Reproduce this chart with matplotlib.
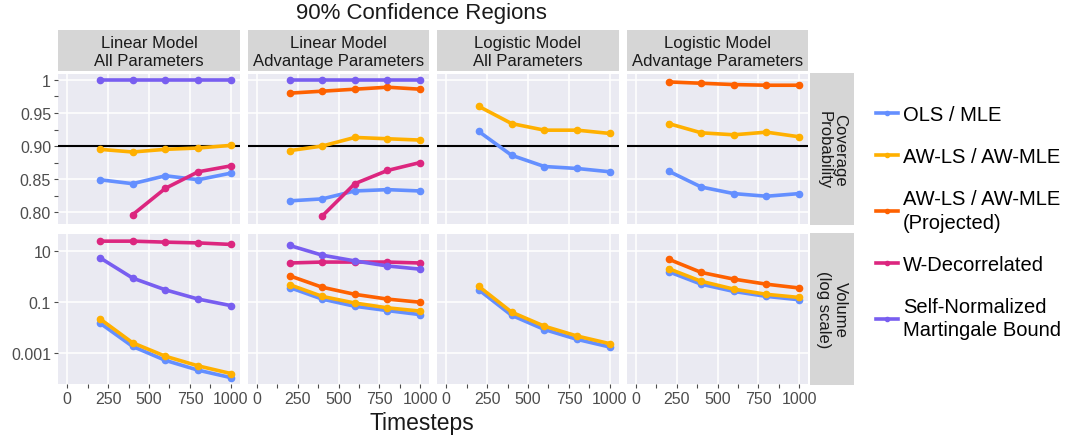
import numpy as np
import matplotlib
matplotlib.use("Agg")
import matplotlib.pyplot as plt
from matplotlib.lines import Line2D
from matplotlib.ticker import FixedLocator, LogLocator, NullFormatter

plt.rcParams['font.family'] = ['Liberation Sans', 'DejaVu Sans']

# ---- data ----
timesteps = [200, 400, 600, 800, 1000]
methods = ['OLS / MLE', 'AW-LS / AW-MLE', 'AW-LS / AW-MLE\n(Projected)',
           'W-Decorrelated', 'Self-Normalized\nMartingale Bound']
colors = ['#648FFF', '#FFB000', '#FE6100', '#DC267F', '#785EF0']
panel_titles = ['Linear Model\nAll Parameters', 'Linear Model\nAdvantage Parameters',
                'Logistic Model\nAll Parameters', 'Logistic Model\nAdvantage Parameters']
row_titles = ['Coverage\nProbability', 'Volume\n(log scale)']

nan = np.nan
# coverage probability, one list per method, per panel (nan = not shown)
cov_lin_all_ols = [0.849, 0.843, 0.855, 0.849, 0.859]
cov_lin_all_aw = [0.895, 0.891, 0.895, 0.897, 0.901]
cov_lin_all_wdec = [nan, 0.796, 0.836, 0.861, 0.870]
cov_lin_all_sn = [1.0, 1.0, 1.0, 1.0, 1.0]

cov_lin_adv_ols = [0.817, 0.820, 0.832, 0.834, 0.832]
cov_lin_adv_aw = [0.893, 0.900, 0.913, 0.911, 0.909]
cov_lin_adv_proj = [0.980, 0.983, 0.986, 0.989, 0.986]
cov_lin_adv_wdec = [nan, 0.794, 0.843, 0.863, 0.875]
cov_lin_adv_sn = [1.0, 1.0, 1.0, 1.0, 1.0]

cov_log_all_ols = [0.922, 0.886, 0.869, 0.866, 0.861]
cov_log_all_aw = [0.960, 0.934, 0.924, 0.924, 0.919]

cov_log_adv_ols = [0.862, 0.838, 0.828, 0.824, 0.828]
cov_log_adv_aw = [0.934, 0.920, 0.917, 0.921, 0.914]
cov_log_adv_proj = [0.997, 0.995, 0.993, 0.992, 0.992]

# volume
vol_lin_all_ols = [0.015, 0.0018, 0.00051, 0.00021, 0.000107]
vol_lin_all_aw = [0.022, 0.0025, 0.00074, 0.00031, 0.000155]
vol_lin_all_wdec = [24.5, 24.5, 22.4, 20.9, 18.2]
vol_lin_all_sn = [5.5, 0.87, 0.30, 0.13, 0.072]

vol_lin_adv_ols = [0.37, 0.13, 0.068, 0.046, 0.032]
vol_lin_adv_aw = [0.48, 0.166, 0.091, 0.059, 0.044]
vol_lin_adv_proj = [1.07, 0.38, 0.20, 0.13, 0.098]
vol_lin_adv_wdec = [3.4, 3.7, 3.7, 3.7, 3.4]
vol_lin_adv_sn = [16.6, 6.9, 4.1, 2.6, 1.95]

vol_log_all_ols = [0.30, 0.030, 0.0083, 0.0034, 0.0017]
vol_log_all_aw = [0.41, 0.040, 0.0112, 0.0046, 0.0023]

vol_log_adv_ols = [1.55, 0.50, 0.26, 0.166, 0.123]
vol_log_adv_aw = [2.04, 0.65, 0.32, 0.20, 0.151]
vol_log_adv_proj = [4.8, 1.45, 0.79, 0.50, 0.355]

coverage = [
    [cov_lin_all_ols, cov_lin_all_aw, None, cov_lin_all_wdec, cov_lin_all_sn],
    [cov_lin_adv_ols, cov_lin_adv_aw, cov_lin_adv_proj, cov_lin_adv_wdec, cov_lin_adv_sn],
    [cov_log_all_ols, cov_log_all_aw, None, None, None],
    [cov_log_adv_ols, cov_log_adv_aw, cov_log_adv_proj, None, None],
]
volume = [
    [vol_lin_all_ols, vol_lin_all_aw, None, vol_lin_all_wdec, vol_lin_all_sn],
    [vol_lin_adv_ols, vol_lin_adv_aw, vol_lin_adv_proj, vol_lin_adv_wdec, vol_lin_adv_sn],
    [vol_log_all_ols, vol_log_all_aw, None, None, None],
    [vol_log_adv_ols, vol_log_adv_aw, vol_log_adv_proj, None, None],
]

# ---- layout (pixel boxes) ----
W, H = 1068, 439
fig = plt.figure(figsize=(W / 100, H / 100), dpi=100)

def box(x0, y0, x1, y1):
    return [x0 / W, 1 - y1 / H, (x1 - x0) / W, (y1 - y0) / H]

col_x = [(58, 240), (248, 429), (437, 619), (627, 808)]
row_y = [(75, 225), (235, 385)]
bg = '#EAEAF2'
strip_c = '#D6D6D6'
tick_c = '#4D4D4D'

for j, (x0, x1) in enumerate(col_x):
    s = fig.add_axes(box(x0, 31, x1, 72))
    s.set_facecolor(strip_c)
    s.set_xticks([]); s.set_yticks([])
    for sp in s.spines.values():
        sp.set_visible(False)
    s.text(0.5, 0.48, panel_titles[j], ha='center', va='center', fontsize=12,
           color='#1A1A1A', linespacing=1.3, transform=s.transAxes)

for i, (y0, y1) in enumerate(row_y):
    s = fig.add_axes(box(810, y0 - 1, 854, y1 + 1))
    s.set_facecolor(strip_c)
    s.set_xticks([]); s.set_yticks([])
    for sp in s.spines.values():
        sp.set_visible(False)
    s.text(0.5, 0.5, row_titles[i], ha='center', va='center', fontsize=12,
           color='#1A1A1A', rotation=-90, linespacing=1.1, transform=s.transAxes)

for i, (y0, y1) in enumerate(row_y):
    for j, (x0, x1) in enumerate(col_x):
        ax = fig.add_axes(box(x0, y0, x1, y1))
        ax.set_facecolor(bg)
        for sp in ax.spines.values():
            sp.set_visible(False)
        ax.set_xlim(-55, 1055)
        ax.xaxis.set_major_locator(FixedLocator([0, 250, 500, 750, 1000]))
        ax.xaxis.set_minor_locator(FixedLocator([125, 375, 625, 875]))
        ax.grid(True, which='major', color='white', linewidth=1.1)
        ax.set_axisbelow(True)
        ax.tick_params(which='both', colors=tick_c, labelcolor=tick_c,
                       labelsize=11.5, length=3, width=0.8, pad=2)
        data = coverage[j] if i == 0 else volume[j]
        for k, series in enumerate(data):
            if series is None:
                continue
            yerr = 0.004 if i == 0 else None
            ax.errorbar(timesteps, series, yerr=yerr, color=colors[k], lw=2.6,
                        marker='o', ms=4.5, elinewidth=2, capsize=0, zorder=3 + k)
        if i == 0:
            ax.set_ylim(0.782, 1.009)
            ax.yaxis.set_major_locator(FixedLocator([0.80, 0.85, 0.90, 0.95, 1.0]))
            ax.yaxis.set_minor_locator(FixedLocator([0.825, 0.875, 0.925, 0.975]))
            ax.set_yticklabels(['0.80', '0.85', '0.90', '0.95', '1'])
            ax.axhline(0.90, color='black', lw=1.5, zorder=2)
            ax.tick_params(axis='x', which='both', length=0, labelbottom=False)
        else:
            ax.set_yscale('log')
            ax.set_ylim(10 ** -4.22, 10 ** 1.67)
            ax.yaxis.set_major_locator(FixedLocator([1e-3, 1e-1, 1e1]))
            ax.yaxis.set_minor_locator(LogLocator(base=10, subs=np.arange(2, 10)))
            ax.yaxis.set_minor_formatter(NullFormatter())
            ax.set_yticklabels(['0.001', '0.1', '10'])
        if j > 0:
            ax.tick_params(axis='y', which='both', length=0, labelleft=False)

fig.text(421 / W, 1 - 13 / H, '90% Confidence Regions', ha='center', va='center',
         fontsize=16, color='#1A1A1A')
fig.text(422 / W, 1 - 424 / H, 'Timesteps', ha='center', va='center',
         fontsize=16.5, color='#1A1A1A')

handles = [Line2D([0], [0], color=c, lw=2.6, marker='o', ms=3) for c in colors]
leg = fig.legend(handles, methods, loc='center left', bbox_to_anchor=(868 / W, 1 - 223 / H),
                 frameon=False, fontsize=14.5, handlelength=1.1, handletextpad=0.25,
                 labelspacing=1.15, borderaxespad=0)
for t in leg.get_texts():
    t.set_linespacing(1.3)

fig.savefig('out.png', dpi=100)
